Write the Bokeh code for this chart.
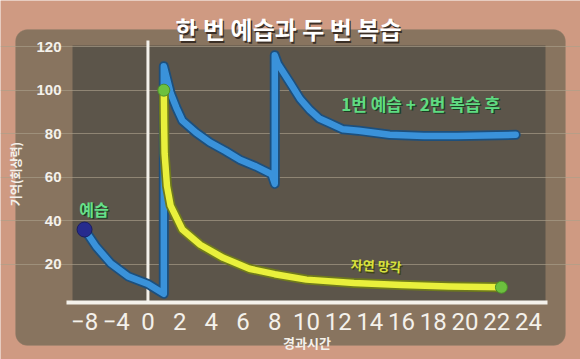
import numpy as np
from bokeh.plotting import figure
from bokeh.models import Range1d, FixedTicker, BoxAnnotation, Label
from bokeh.embed import file_html
from bokeh.resources import INLINE

# ---------------- data ----------------
tick_hours = [-8, -4, 0, 2, 4, 6, 8, 10, 12, 14, 16, 18, 20, 22, 24]
tick_labels = ["−8", "−4", "0", "2", "4", "6", "8", "10", "12", "14", "16", "18", "20", "22", "24"]
memory_ticks = [20, 40, 60, 80, 100, 120]

# blue: one preview + two reviews
review_hours = [-8, -6.5, -4.7, -2.5, 0, 1, 1, 1.07, 1.43, 1.79, 2.17, 3.04, 3.9, 4.9, 5.8, 6.8, 7.8, 8,
                8, 8.2, 9.0, 9.6, 10.2, 10.8, 11.4, 12.3, 13.3, 15.25, 17.4, 19.5, 23.2]
review_memory = [36, 28, 20.5, 14.5, 11, 6.5, 111, 109, 98.6, 92, 86, 80.5, 76, 72, 68, 65, 61.4, 57,
                 116, 112, 103, 96, 91, 87, 85, 82, 81.4, 79.5, 79, 79, 79.5]

# yellow: natural forgetting
forget_hours = [1, 1.02, 1.05, 1.2, 1.43, 2.17, 3.3, 4.75, 6.4, 8, 10, 13, 16, 19, 22.3]
forget_memory = [100, 85, 71, 56, 47, 36, 29, 23, 18, 15.5, 13, 11.5, 10.5, 9.8, 9.5]

preview_hours = [-8]
preview_memory = [36]
forget_dot_hours = [1, 22.3]
forget_dot_memory = [100, 9.5]

title_text = "한 번 예습과 두 번 복습"
x_title = "경과시간"
y_title = "기억(회상력)"
label_preview = "예습"
label_review = "1번 예습 + 2번 복습 후"
label_forget = "자연 망각"

# the time axis of the original is drawn with evenly spaced tick labels
tick_pos = np.arange(len(tick_hours), dtype=float)


def hour_axis(h):
    return np.interp(np.asarray(h, dtype=float), tick_hours, tick_pos)


# ---------------- layout ----------------
W, H = 580, 359
FL, FR, FT, FB = 72, 545, 45, 302          # plot box in pixels
XR = (-0.38, 14.54)                        # plot box in axis units
YR = (2.5, 120.5)


def px_x(px):
    return XR[0] + (px - FL) * (XR[1] - XR[0]) / (FR - FL)


def px_y(py):
    return YR[0] + (FB - py) * (YR[1] - YR[0]) / (FB - FT)


KR = "Noto Sans CJK KR"
PEACH = "#cf9a82"
PANEL = "#88745f"
BOARD = "#5c554a"
CHALK = "#f4f1eb"

p = figure(width=W, height=H, output_backend="svg", toolbar_location=None,
           x_range=Range1d(px_x(0), px_x(W)), y_range=Range1d(px_y(H), px_y(0)),
           min_border=0)
p.border_fill_color = PEACH
p.background_fill_color = PEACH
p.outline_line_color = None

# rounded panel and the board
p.add_layout(BoxAnnotation(left=px_x(15), right=px_x(565), top=px_y(29), bottom=px_y(345),
                           fill_color=PANEL, fill_alpha=1.0, line_color="#9a8570", line_width=1,
                           level="image", border_radius=12))
p.add_layout(BoxAnnotation(left=XR[0], right=XR[1], bottom=YR[0], top=YR[1],
                           fill_color=BOARD, fill_alpha=1.0, line_color=None, level="image"))

# axes drawn on the board
xa = p.xaxis[0]
xa.fixed_location = YR[0]
xa.bounds = (px_x(66), px_x(547))
xa.ticker = FixedTicker(ticks=list(tick_pos))
xa.major_label_overrides = {int(i): lab for i, lab in zip(tick_pos, tick_labels)}
xa.axis_line_color = CHALK
xa.axis_line_width = 4
xa.major_tick_line_color = None
xa.minor_tick_line_color = None
xa.major_label_text_color = CHALK
xa.major_label_text_font = "Roboto"
xa.major_label_text_font_size = "24px"
xa.major_label_standoff = 4
xa.axis_label = x_title
xa.axis_label_text_font = KR
xa.axis_label_text_font_style = "bold"
xa.axis_label_text_font_size = "13px"
xa.axis_label_text_color = CHALK
xa.axis_label_standoff = 0

ya = p.yaxis[0]
ya.fixed_location = XR[0]
ya.bounds = YR
ya.ticker = FixedTicker(ticks=memory_ticks)
ya.axis_line_color = None
ya.major_tick_line_color = None
ya.minor_tick_line_color = None
ya.major_label_text_color = CHALK
ya.major_label_text_font = "Liberation Sans"
ya.major_label_text_font_style = "bold"
ya.major_label_text_font_size = "15px"
ya.major_label_standoff = 5
ya.axis_label = y_title
ya.axis_label_text_font = KR
ya.axis_label_text_font_style = "bold"
ya.axis_label_text_font_size = "12px"
ya.axis_label_text_color = CHALK
ya.axis_label_standoff = 9

p.xgrid.visible = False
p.ygrid.ticker = FixedTicker(ticks=memory_ticks)
p.ygrid.bounds = XR
p.ygrid.grid_line_color = "#ab9f8b"
p.ygrid.grid_line_alpha = 0.65
p.ygrid.grid_line_width = 1

# vertical chalk line at time 0
x0 = float(hour_axis(0))
p.segment(x0=[x0], y0=[YR[0]], x1=[x0], y1=[px_y(40)], line_color=CHALK, line_width=3)

# curves
rx = hour_axis(review_hours)
fx = hour_axis(forget_hours)
p.line(rx, review_memory, line_color="#1d4f7c", line_width=10, line_join="round", line_cap="round")
p.line(rx, review_memory, line_color="#3a92da", line_width=6.5, line_join="round", line_cap="round")
p.line(fx, forget_memory, line_color="#6f7a1c", line_width=10, line_join="round", line_cap="round")
p.line(fx, forget_memory, line_color="#e9f03c", line_width=6.5, line_join="round", line_cap="round")

p.scatter(hour_axis(preview_hours), preview_memory, size=15, fill_color="#262b8e",
          line_color="#1a1d60", line_width=1)
p.scatter(hour_axis(forget_dot_hours), forget_dot_memory, size=12, fill_color="#6cc03e",
          line_color="#4c8f2a", line_width=1)


def add_text(text, x, y, size, color, shadow, angle=0.0):
    p.add_layout(Label(x=x, y=y, text=text, text_font=KR, text_font_style="bold",
                       text_font_size=size, text_color=shadow, text_align="center",
                       text_baseline="middle", x_offset=1.3, y_offset=-1.6, angle=angle))
    p.add_layout(Label(x=x, y=y, text=text, text_font=KR, text_font_style="bold",
                       text_font_size=size, text_color=color, text_align="center",
                       text_baseline="middle", angle=angle))


add_text(title_text, px_x(288), px_y(28), "24px", "#ffffff", "#3b2f26")
add_text(label_preview, float(hour_axis(-6.8)), 45.5, "16px", "#66e08a", "#1c3f24")
add_text(label_review, float(hour_axis(17.2)), 94, "17px", "#5fdc82", "#1c3f24")
add_text(label_forget, float(hour_axis(14.4)), 19.5, "13px", "#d9e23c", "#3d4314", angle=-0.05)

open("out.html", "w").write(file_html(p, INLINE))
